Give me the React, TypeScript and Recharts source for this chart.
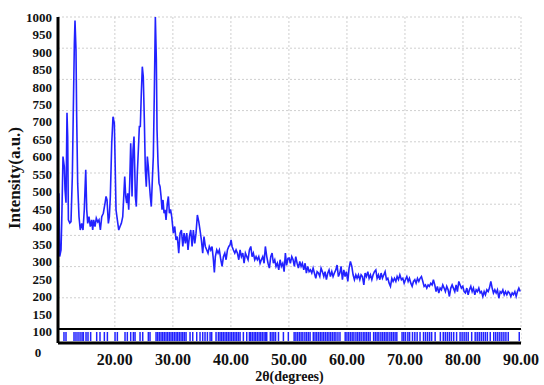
import {
  ComposedChart,
  Line,
  Scatter,
  XAxis,
  YAxis,
  CartesianGrid,
  ReferenceLine,
  ReferenceArea,
} from "recharts";

// --- Data ---

const X_MIN = 10.2;
const X_MAX = 90;
const Y_MIN = 68; // bottom of the reflection band
const Y_MAX = 1000;
const SEPARATOR = 108; // black line between pattern and reflection band
const REFLECTION_ROW = 86.6;

const xTicks = [20, 30, 40, 50, 60, 70, 80, 90];
const yTicks = [100, 150, 200, 250, 300, 350, 400, 450, 500, 550, 600, 650, 700, 750, 800, 850, 900, 950, 1000];

// [2θ, intensity]
const patternPoints: [number, number][] = [
  [10.37, 496], [10.49, 315], [10.72, 334], [10.84, 411], [11.06, 601], [11.29, 572], [11.41, 506], [11.58, 469],
  [11.75, 726], [11.87, 658], [11.99, 420], [12.23, 411], [12.44, 415], [12.67, 544], [12.84, 734], [13.02, 925],
  [13.13, 990], [13.3, 906], [13.42, 715], [13.59, 525], [13.82, 429], [14.04, 391], [14.28, 410], [14.51, 391],
  [14.73, 449], [14.98, 563], [15.15, 449], [15.32, 410], [15.54, 429], [15.77, 401], [16.0, 420], [16.18, 391],
  [16.35, 420], [16.58, 401], [16.8, 425], [17.05, 414], [17.27, 420], [17.5, 391], [17.74, 429], [18.01, 439],
  [18.31, 468], [18.48, 487], [18.65, 477], [18.88, 410], [19.05, 429], [19.22, 487], [19.46, 639], [19.68, 715],
  [19.91, 696], [20.05, 580], [20.2, 449], [20.43, 420], [20.67, 391], [20.89, 401], [21.12, 410], [21.36, 429],
  [21.53, 487], [21.7, 544], [21.87, 487], [22.04, 468], [22.21, 496], [22.39, 449], [22.56, 525], [22.73, 639],
  [22.84, 582], [22.96, 487], [23.13, 620], [23.3, 658], [23.42, 572], [23.53, 487], [23.7, 458], [23.87, 553],
  [24.05, 620], [24.22, 687], [24.39, 687], [24.56, 782], [24.73, 858], [24.9, 829], [25.08, 706], [25.25, 563],
  [25.42, 515], [25.6, 601], [25.77, 572], [25.94, 525], [26.11, 487], [26.28, 458], [26.46, 534], [26.63, 601],
  [26.8, 782], [26.98, 1000], [27.15, 877], [27.27, 677], [27.44, 582], [27.61, 525], [27.79, 515], [27.96, 487],
  [28.13, 449], [28.3, 477], [28.48, 439], [28.65, 449], [28.82, 420], [29.05, 468], [29.22, 487], [29.4, 439],
  [29.6, 450], [29.8, 429], [30.08, 382], [30.32, 401], [30.54, 363], [30.77, 372], [31.01, 325], [31.24, 382],
  [31.47, 391], [31.71, 344], [31.93, 382], [32.16, 353], [32.39, 382], [32.61, 334], [32.84, 372], [33.08, 391],
  [33.31, 344], [33.53, 391], [33.77, 353], [33.99, 382], [34.22, 434], [34.46, 415], [34.68, 391], [34.91, 363],
  [35.14, 325], [35.36, 372], [35.59, 344], [35.84, 334], [36.06, 325], [36.28, 344], [36.53, 334], [36.75, 344],
  [36.98, 306], [37.15, 270], [37.32, 315], [37.56, 334], [37.79, 325], [38.01, 334], [38.26, 306], [38.48, 287],
  [38.71, 315], [38.95, 325], [39.17, 306], [39.4, 334], [39.64, 344], [39.86, 349], [40.03, 363], [40.2, 344],
  [40.43, 334], [40.67, 325], [40.89, 334], [41.12, 325], [41.36, 306], [41.58, 334], [41.81, 315], [42.05, 325],
  [42.27, 296], [42.5, 325], [42.74, 315], [42.96, 306], [43.19, 334], [43.43, 344], [43.65, 315], [43.87, 325],
  [44.11, 306], [44.34, 315], [44.56, 306], [44.8, 315], [45.03, 296], [45.25, 306], [45.49, 315], [45.72, 296],
  [45.94, 344], [46.18, 315], [46.4, 296], [46.63, 282], [46.87, 315], [47.1, 325], [47.32, 296], [47.56, 306],
  [47.78, 287], [48.01, 296], [48.25, 277], [48.48, 306], [48.7, 287], [48.94, 296], [49.17, 272], [49.39, 325],
  [49.6, 290], [49.83, 310], [50.03, 311], [50.25, 296], [50.49, 315], [50.72, 306], [50.94, 287], [51.18, 315],
  [51.41, 296], [51.63, 282], [51.87, 301], [52.1, 287], [52.32, 296], [52.56, 277], [52.79, 296], [53.01, 268],
  [53.25, 287], [53.48, 272], [53.7, 277], [53.94, 268], [54.17, 282], [54.39, 268], [54.63, 253], [54.86, 272],
  [55.08, 268], [55.32, 258], [55.54, 282], [55.77, 272], [56.01, 258], [56.23, 272], [56.46, 249], [56.7, 268],
  [56.92, 277], [57.15, 258], [57.39, 272], [57.61, 258], [57.84, 268], [58.08, 277], [58.3, 291], [58.53, 258],
  [58.77, 268], [58.99, 287], [59.22, 249], [59.46, 277], [59.68, 258], [59.91, 272], [60.15, 244], [60.37, 282],
  [60.6, 301], [60.84, 287], [61.06, 263], [61.29, 249], [61.53, 263], [61.75, 253], [61.98, 263], [62.22, 249],
  [62.44, 263], [62.67, 258], [62.91, 234], [63.13, 268], [63.36, 258], [63.6, 272], [63.82, 253], [64.05, 263],
  [64.29, 249], [64.51, 263], [64.74, 272], [64.98, 277], [65.2, 253], [65.43, 263], [65.67, 249], [65.89, 268],
  [66.12, 253], [66.36, 263], [66.58, 272], [66.81, 249], [67.05, 253], [67.27, 239], [67.5, 230], [67.74, 253],
  [67.96, 244], [68.19, 253], [68.43, 244], [68.65, 258], [68.88, 249], [69.12, 263], [69.39, 249], [69.63, 253],
  [69.86, 239], [70.08, 249], [70.32, 258], [70.55, 244], [70.77, 253], [71.01, 239], [71.24, 230], [71.47, 244],
  [71.7, 249], [71.92, 239], [72.16, 253], [72.39, 244], [72.61, 253], [72.84, 258], [73.08, 244], [73.3, 230],
  [73.53, 234], [73.76, 225], [73.99, 234], [74.21, 230], [74.45, 239], [74.68, 234], [74.9, 249], [75.14, 234],
  [75.36, 215], [75.59, 230], [75.83, 211], [76.06, 225], [76.28, 220], [76.52, 234], [76.75, 225], [76.97, 215],
  [77.2, 230], [77.44, 220], [77.66, 201], [77.9, 225], [78.13, 234], [78.35, 225], [78.59, 215], [78.82, 234],
  [79.04, 215], [79.28, 244], [79.51, 234], [79.73, 225], [79.97, 230], [80.2, 215], [80.42, 211], [80.66, 225],
  [80.89, 206], [81.11, 220], [81.35, 230], [81.58, 215], [81.8, 225], [82.04, 206], [82.27, 220], [82.49, 215],
  [82.73, 225], [82.96, 211], [83.18, 215], [83.42, 201], [83.65, 215], [83.87, 206], [84.11, 220], [84.34, 215],
  [84.56, 225], [84.8, 244], [85.03, 225], [85.25, 211], [85.49, 220], [85.72, 211], [85.94, 220], [86.18, 196],
  [86.41, 215], [86.63, 211], [86.87, 220], [87.1, 206], [87.32, 215], [87.56, 206], [87.79, 215], [88.01, 211],
  [88.25, 201], [88.48, 211], [88.7, 206], [88.94, 215], [89.17, 201], [89.39, 215], [89.63, 225], [89.86, 215],
];

// reflection positions (2θ) shown as tick marks under the pattern
const reflections = [
  11.23, 11.58, 12.96, 13.3, 13.65, 14.0, 14.34, 14.57, 15.03, 15.37, 15.83, 16.87, 17.44, 18.19, 18.71,
  20.03, 20.43, 21.75, 22.15, 22.73, 23.19, 23.48, 24.34, 24.8, 25.77, 26.06,
  27.1, 27.38, 27.67, 27.96, 28.25, 28.53, 28.82, 29.11, 29.4, 29.68, 29.97, 30.26, 30.55, 30.83, 31.12,
  31.41, 31.7, 31.98, 32.27, 32.96, 33.42, 34.11, 34.68, 35.14, 35.54, 35.95, 36.41, 36.69, 37.44, 37.84,
  38.13, 38.42, 38.7, 38.99, 39.28, 39.56, 39.85, 40.14, 40.43, 40.71, 41.0, 41.29, 41.58,
  42.15, 42.73, 43.19, 43.42, 43.71, 44.0, 44.28, 44.57, 44.86, 45.15, 45.43, 45.72, 46.01, 46.18,
  46.8, 47.1, 47.4, 47.7, 48.2, 49.05, 49.9,
  50.9, 51.2, 51.5, 51.8, 52.1, 52.4, 52.75, 53.05, 53.35, 53.65,
  54.2, 54.5, 54.8, 55.1, 55.4, 55.7, 56.0, 56.3, 56.6, 56.9, 57.2, 57.5, 57.8, 58.1, 58.45, 58.8,
  59.7, 60.0, 60.3, 60.6, 60.9, 61.2, 61.55, 61.85, 62.15, 62.45, 62.8, 63.1, 63.4, 63.7, 64.0,
  64.6, 64.9, 65.2, 65.5, 65.85, 66.15, 66.45, 66.75, 67.05, 67.4, 67.7, 68.0, 68.3, 68.6,
  69.5, 69.8, 70.1, 70.5, 70.8, 71.3, 71.7, 72.1, 72.6,
  73.2, 73.55, 73.9, 74.25, 74.6, 75.2,
  76.1, 76.6, 76.95, 77.3, 77.65, 78.0, 78.4, 78.9,
  79.5, 79.85, 80.2, 80.55, 80.9, 81.5,
  82.1, 82.45, 82.8, 83.15, 83.5, 83.85, 84.2, 84.7,
  85.3, 85.65, 86.0, 86.35, 86.7, 87.05, 87.4, 87.8, 89.7,
];

const patternData = patternPoints.map(([x, y]) => ({ x, y }));
const reflectionData = reflections.map((x) => ({ x, y: REFLECTION_ROW }));

// 20 equal grid divisions between the separator and the top
const gridTicks = Array.from({ length: 20 }, (_, i) => SEPARATOR + ((Y_MAX - SEPARATOR) * (i + 1)) / 20);

// --- Components ---

const SERIF = "'Liberation Serif', 'Times New Roman', serif";
const BLUE = "#2222ff";

const YTick = (props: any) => {
  const { x, y, payload } = props;
  const isZero = payload.value === Y_MIN;
  return (
    <text
      x={isZero ? x - 14 : x}
      y={isZero ? y + 9 : y}
      dy="0.35em"
      textAnchor={isZero ? "middle" : "end"}
      fontFamily={SERIF}
      fontWeight="bold"
      fontSize={13}
      fill="#111"
    >
      {isZero ? 0 : payload.value}
    </text>
  );
};

const TickMark = (props: any) => {
  const { cx, cy } = props;
  return <line x1={cx} x2={cx} y1={cy - 4.5} y2={cy + 4.5} stroke={BLUE} strokeWidth={1.5} />;
};

export default function App() {
  return (
    <div style={{ position: "absolute", left: 0, top: 0, background: "#fff" }}>
      <ComposedChart width={544} height={385} margin={{ top: 17, right: 23, bottom: 0, left: 0 }}>
        <CartesianGrid yAxisId="grid" stroke="#cfcfcf" strokeDasharray="2 2" />
        <XAxis
          dataKey="x"
          type="number"
          domain={[X_MIN, X_MAX]}
          ticks={xTicks}
          allowDataOverflow
          tickFormatter={(v: number) => v.toFixed(2)}
          height={42}
          tickLine={false}
          tickSize={0}
          tickMargin={11}
          axisLine={{ stroke: "#000", strokeWidth: 3 }}
          tick={{ fontFamily: SERIF, fontWeight: "bold", fontSize: 16, fill: "#111" }}
          label={{
            value: "2θ(degrees)",
            position: "insideBottom",
            offset: 4,
            fontFamily: SERIF,
            fontWeight: "bold",
            fontSize: 14,
            fill: "#111",
          }}
        />
        <XAxis
          xAxisId="top"
          orientation="top"
          type="number"
          domain={[X_MIN, X_MAX]}
          height={0}
          tick={false}
          tickLine={false}
          axisLine={{ stroke: "#000", strokeWidth: 3 }}
          label={{
            content: (p: any) => {
              const vb = p.viewBox;
              return (
                <text
                  x={vb.x + vb.width - 2}
                  y={vb.y + 10}
                  textAnchor="end"
                  fontFamily="'Liberation Sans', Arial, sans-serif"
                  fontWeight="bold"
                  fontSize={7}
                  textLength={86}
                  lengthAdjust="spacingAndGlyphs"
                  fill="#2020d0"
                >
                  Experimental pattern: (Ir 32)
                </text>
              );
            },
          }}
        />
        <YAxis
          type="number"
          domain={[Y_MIN, Y_MAX]}
          ticks={[Y_MIN, ...yTicks]}
          interval={0}
          allowDataOverflow
          width={58}
          tickLine={false}
          tickSize={0}
          tickMargin={6}
          axisLine={{ stroke: "#000", strokeWidth: 3 }}
          tick={<YTick />}
          label={{
            content: (p: any) => {
              const vb = p.viewBox;
              const cx = vb.x + 20;
              const cy = vb.y + vb.height / 2 - 2;
              return (
                <text
                  x={cx}
                  y={cy}
                  transform={`rotate(-90 ${cx} ${cy})`}
                  textAnchor="middle"
                  fontFamily={SERIF}
                  fontWeight="bold"
                  fontSize={17}
                  fill="#111"
                >
                  Intensity(a.u.)
                </text>
              );
            },
          }}
        />
        <YAxis yAxisId="grid" hide type="number" domain={[Y_MIN, Y_MAX]} ticks={gridTicks} allowDataOverflow />
        <YAxis
          yAxisId="right"
          orientation="right"
          type="number"
          domain={[Y_MIN, Y_MAX]}
          width={0}
          tick={false}
          tickLine={false}
          axisLine={{ stroke: "#000", strokeWidth: 3 }}
        />
        <ReferenceArea y1={Y_MIN} y2={SEPARATOR} fill="#fff" fillOpacity={1} stroke="none" ifOverflow="hidden" />
        <ReferenceLine y={SEPARATOR} stroke="#000" strokeWidth={2} />
        <Scatter data={reflectionData} dataKey="y" shape={<TickMark />} isAnimationActive={false} />
        <Line
          data={patternData}
          dataKey="y"
          type="linear"
          stroke={BLUE}
          strokeWidth={1.6}
          dot={false}
          isAnimationActive={false}
        />
      </ComposedChart>
    </div>
  );
}
